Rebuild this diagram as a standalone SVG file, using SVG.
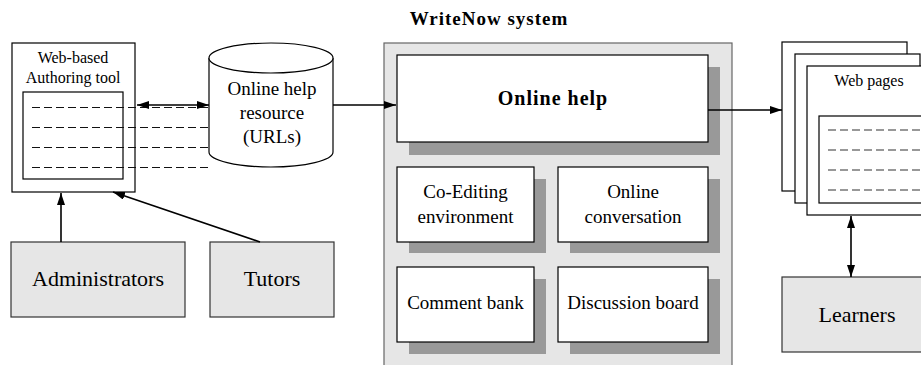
<svg xmlns="http://www.w3.org/2000/svg" width="921" height="365" viewBox="0 0 921 365">
  <defs>
    <marker id="arrow" viewBox="0 0 12 8" refX="12" refY="4" markerWidth="12" markerHeight="8" markerUnits="userSpaceOnUse" orient="auto-start-reverse">
      <path d="M0,0 L12,4 L0,8 Z" fill="#000"/>
    </marker>
    <style>
      text { font-family: "Liberation Serif", "Times New Roman", serif; fill: #000; text-anchor: middle; }
      .box { fill: #fff; stroke: #000; stroke-width: 1.2; }
      .grey { fill: #e6e6e6; stroke: #333; stroke-width: 1.2; }
      .shadow { fill: #999; stroke: none; }
      .dash { stroke: #111; stroke-width: 1.2; stroke-dasharray: 8 4; fill: none; }
      .dash-grey { stroke: #777; stroke-width: 1.5; stroke-dasharray: 8 4; fill: none; }
      .link { stroke: #000; stroke-width: 1.6; fill: none; }
      .t16 { font-size: 16px; }
      .t19 { font-size: 19px; }
      .t22 { font-size: 22px; }
      .bold { font-weight: bold; letter-spacing: 1px; }
    </style>
  </defs>

  <rect width="921" height="365" fill="#fff"/>

  <!-- System title -->
  <text x="489" y="25" class="bold" style="font-size:19px">WriteNow system</text>

  <!-- System container -->
  <g id="writenow-system">
    <rect x="384" y="43" width="348" height="330" fill="#e6e6e6" stroke="#666" stroke-width="1.2"/>
  </g>

  <g id="online-help">
    <rect class="shadow" x="409" y="67" width="311" height="88"/>
    <rect class="box" x="397" y="55" width="311" height="87"/>
    <text x="553" y="105" class="bold" style="font-size:20px">Online help</text>
  </g>

  <g id="co-editing">
    <rect class="shadow" x="409" y="179" width="137" height="74"/>
    <rect class="box" x="397" y="167" width="137" height="75"/>
    <text x="465.5" y="198" class="t19">Co-Editing</text>
    <text x="465.5" y="223" class="t19">environment</text>
  </g>

  <g id="online-conversation">
    <rect class="shadow" x="570" y="179" width="150" height="74"/>
    <rect class="box" x="558" y="167" width="150" height="75"/>
    <text x="633" y="198" class="t19">Online</text>
    <text x="633" y="223" class="t19">conversation</text>
  </g>

  <g id="comment-bank">
    <rect class="shadow" x="409" y="279" width="137" height="75"/>
    <rect class="box" x="397" y="267" width="137" height="75"/>
    <text x="465.5" y="309" class="t19">Comment bank</text>
  </g>

  <g id="discussion-board">
    <rect class="shadow" x="570" y="279" width="150" height="75"/>
    <rect class="box" x="558" y="267" width="150" height="75"/>
    <text x="633" y="309" class="t19">Discussion board</text>
  </g>

  <!-- Authoring tool -->
  <g id="authoring-tool">
    <rect class="box" x="12" y="43" width="123" height="149"/>
    <text x="73" y="63" class="t16">Web-based</text>
    <text x="73" y="83" class="t16">Authoring tool</text>
    <rect class="box" x="23" y="92" width="100" height="87"/>
    <line class="dash" x1="32" y1="107.5" x2="209" y2="107.5"/>
    <line class="dash" x1="32" y1="127.5" x2="209" y2="127.5"/>
    <line class="dash" x1="32" y1="147.5" x2="209" y2="147.5"/>
    <line class="dash" x1="32" y1="167.5" x2="209" y2="167.5"/>
  </g>

  <!-- Online help resource database -->
  <g id="help-resource">
    <path d="M209,58 L209,152 A62,15 0 0 0 333,152 L333,58" fill="#fff" stroke="#000" stroke-width="1.2"/>
    <ellipse cx="271" cy="58" rx="62" ry="15" fill="#fff" stroke="#000" stroke-width="1.2"/>
    <text x="272" y="95" class="t19">Online help</text>
    <text x="272" y="119" class="t19">resource</text>
    <text x="272" y="143" class="t19">(URLs)</text>
  </g>

  <g id="administrators">
    <rect class="grey" x="11" y="242" width="174" height="75"/>
    <text x="98" y="286" class="t22">Administrators</text>
  </g>

  <g id="tutors">
    <rect class="grey" x="210" y="242" width="124" height="75"/>
    <text x="272" y="286" class="t22">Tutors</text>
  </g>

  <!-- Web pages stack -->
  <g id="web-pages">
    <rect class="box" x="782" y="42" width="125" height="149"/>
    <rect class="box" x="795" y="54" width="125" height="149"/>
    <rect class="box" x="807" y="66" width="125" height="149"/>
    <text x="869" y="86" class="t16">Web pages</text>
    <rect class="box" x="819" y="116" width="120" height="87"/>
    <line class="dash-grey" x1="828" y1="130" x2="925" y2="130"/>
    <line class="dash-grey" x1="828" y1="150" x2="925" y2="150"/>
    <line class="dash-grey" x1="828" y1="170" x2="925" y2="170"/>
    <line class="dash-grey" x1="828" y1="190" x2="925" y2="190"/>
  </g>

  <g id="learners">
    <rect class="grey" x="782" y="277" width="150" height="75"/>
    <text x="857" y="322" class="t22">Learners</text>
  </g>

  <!-- Connectors -->
  <g id="connectors">
    <line class="link" x1="137" y1="105" x2="209" y2="105" marker-start="url(#arrow)" marker-end="url(#arrow)"/>
    <line class="link" x1="333" y1="105" x2="396" y2="105" marker-end="url(#arrow)"/>
    <line class="link" x1="708" y1="110" x2="782" y2="110" marker-end="url(#arrow)"/>
    <line class="link" x1="851" y1="216" x2="851" y2="277" marker-start="url(#arrow)" marker-end="url(#arrow)"/>
    <line class="link" x1="61" y1="242" x2="61" y2="193" marker-end="url(#arrow)"/>
    <line class="link" x1="260" y1="242" x2="113" y2="192" marker-end="url(#arrow)"/>
  </g>
</svg>
